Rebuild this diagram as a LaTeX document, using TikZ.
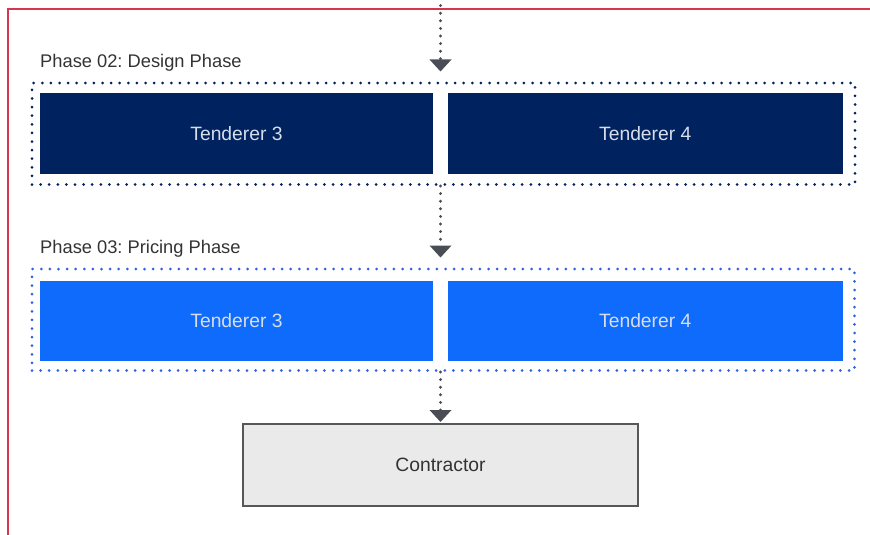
\documentclass[tikz,border=0pt]{standalone}
\usepackage{fontspec}
\setmainfont{Liberation Sans}
\usetikzlibrary{arrows.meta}
\definecolor{navy}{HTML}{00235F}
\definecolor{brightblue}{HTML}{0F6BFB}
\definecolor{bluedot}{HTML}{2F63E0}
\definecolor{framered}{HTML}{D8364F}
\definecolor{arrowgray}{HTML}{4A4E54}
\definecolor{boxgray}{HTML}{EAEAEA}
\definecolor{boxedge}{HTML}{555759}
\definecolor{labeltext}{HTML}{333333}
\definecolor{lighttext}{HTML}{D6DDEB}
\frenchspacing
\tikzset{
  labelfont/.style={font=\fontsize{18.3}{21}\selectfont},
  boxfont/.style={font=\fontsize{19.3}{22}\selectfont},
  phaselabel/.style={labelfont, text=labeltext, anchor=base west, inner sep=0pt},
  groupbox/.style={draw, line width=3pt, line cap=round, dash pattern=on 0pt off 8.6pt, inner sep=0pt},
  tenderbox/.style={inner sep=0pt, minimum height=81pt, boxfont, text=lighttext},
  contractorbox/.style={draw=boxedge, line width=2pt, fill=boxgray, inner sep=0pt, boxfont, text=labeltext, minimum width=395pt, minimum height=82pt},
  flow/.style={draw=arrowgray, line width=3.2pt, line cap=round, dash pattern=on 0pt off 7.6pt,
    -{Triangle[width=22pt,length=12pt,fill=arrowgray,line width=0pt]}},
}
\begin{document}
\begin{tikzpicture}[x=1pt,y=-1pt]
\useasboundingbox (0,0) rectangle (870,535);
% red frame
\draw[framered, line width=2pt] (8.3,545) -- (8.3,9.5) -- (880,9.5);

% Design phase
\node[phaselabel] (l2) at (40,67) {Phase 02: Design Phase};
\node[groupbox, draw=navy, minimum width=823pt, minimum height=101.5pt] (design) at (443.5,133.75) {};
\node[tenderbox, fill=navy, minimum width=393pt] (d3) at (236.5,133.5) {Tenderer 3};
\node[tenderbox, fill=navy, minimum width=394.5pt] (d4) at (645.25,133.5) {Tenderer 4};

% Pricing phase
\node[phaselabel] (l3) at (40,253) {Phase 03: Pricing Phase};
\node[groupbox, draw=bluedot, minimum width=822.5pt, minimum height=101.5pt] (pricing) at (443.25,319.75) {};
\node[tenderbox, fill=brightblue, minimum width=393pt, minimum height=80pt] (p3) at (236.5,320.5) {Tenderer 3};
\node[tenderbox, fill=brightblue, minimum width=394.5pt, minimum height=80pt] (p4) at (645.25,320.5) {Tenderer 4};

% Contractor
\node[contractorbox] (con) at (440.5,465) {Contractor};

% connectors
\coordinate (top) at (440.5,-2);
\draw[flow, shorten >=10pt] (top) -- (top |- design.north);
\draw[flow, shorten >=10pt] (top |- design.south) -- (top |- pricing.north);
\draw[flow, shorten >=1pt] (top |- pricing.south) -- (con.north);
\end{tikzpicture}
\end{document}
